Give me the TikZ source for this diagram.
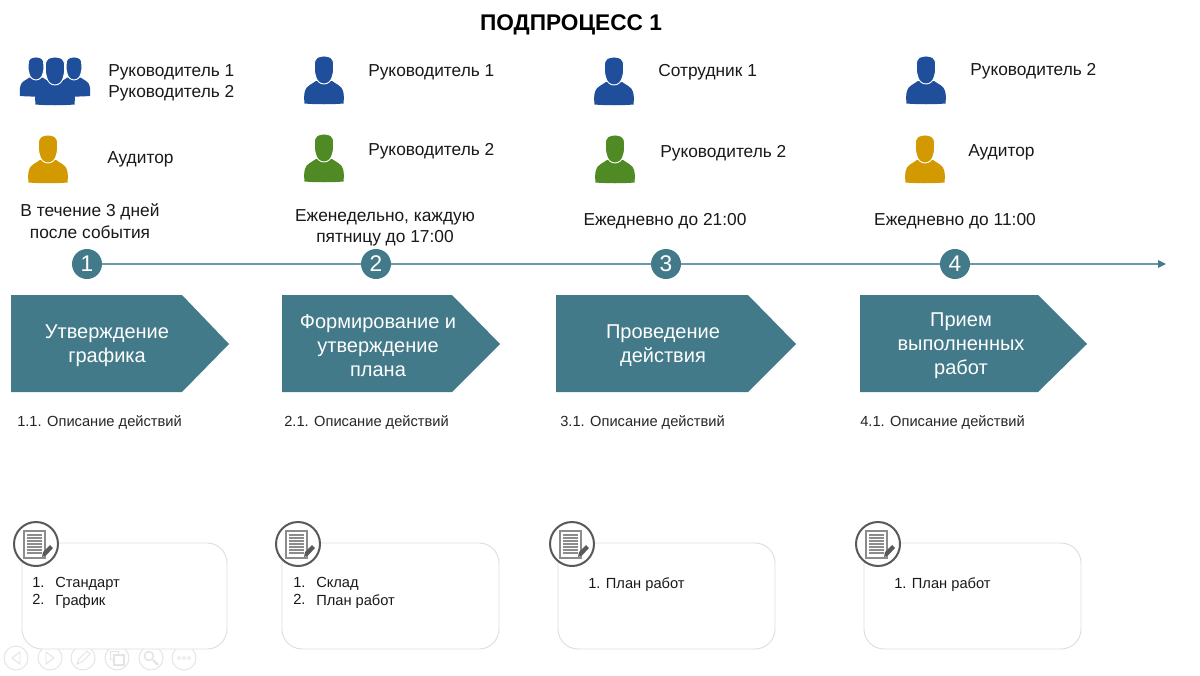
\documentclass[tikz,border=0pt]{standalone}
\usepackage{fontspec}
\setmainfont{Liberation Sans}
\usetikzlibrary{arrows.meta}
\definecolor{teal1}{HTML}{427A8A}
\definecolor{line1}{HTML}{6A9AA6}
\definecolor{blue1}{HTML}{1F4E9A}
\definecolor{gold1}{HTML}{D29A00}
\definecolor{green1}{HTML}{4F8A24}
\definecolor{box1}{HTML}{DEDEDE}
\definecolor{icon1}{HTML}{595959}
\definecolor{docl}{HTML}{8C8C8C}
\definecolor{nav1}{HTML}{E4E4E4}
\tikzset{
  x=0.75pt,y=-0.75pt,
  lab/.style={anchor=west,inner sep=0,font=\fontsize{13}{16}\selectfont,text=black!90},
  when/.style={align=center,inner sep=0,font=\fontsize{13}{16}\selectfont,text=black!90},
  desc/.style={anchor=west,inner sep=0,font=\fontsize{11}{14}\selectfont,text=black!85},
  lst/.style={anchor=north west,inner sep=0,font=\fontsize{11}{13.2}\selectfont,text=black!90},
  num/.style={circle,fill=teal1,minimum size=22.5pt,inner sep=0,text=white,font=\fontsize{17}{20}\selectfont},
  chev/.style={fill=teal1},
  chevtxt/.style={align=center,inner sep=0,text=white,font=\fontsize{15}{18}\selectfont},
  srcbox/.style={draw=box1,line width=0.7pt,rounded corners=15pt,fill=white},
  iconring/.style={circle,draw=icon1,line width=1.5pt,fill=white,minimum size=33pt,inner sep=0},
  navbtn/.style={circle,draw=nav1,line width=0.7pt,minimum size=18pt,inner sep=0},
  pics/person/.style={code={
    \fill[#1]
      (-19.5,47.5) .. controls (-20,42) and (-20,38) .. (-19,35)
      .. controls (-18,30) and (-12,28) .. (-8,25)
      -- (8,25)
      .. controls (12,28) and (18,30) .. (19,35)
      .. controls (20,38) and (20,42) .. (19.5,47.5)
      .. controls (8,48.5) and (-8,48.5) .. (-19.5,47.5) -- cycle;
    \fill[#1,draw=white,line width=0.7pt]
      (-9.5,9) .. controls (-10,2) and (-6,0) .. (0,0)
      .. controls (6,0) and (10,2) .. (9.5,9)
      .. controls (10,14) and (9.5,17) .. (8.5,20)
      .. controls (7.5,25) and (4,28) .. (0,28)
      .. controls (-4,28) and (-7.5,25) .. (-8.5,20)
      .. controls (-9.5,17) and (-10,14) .. (-9.5,9) -- cycle;
  }},
  pics/docicon/.style={code={
    \draw[docl,line width=0.8pt,fill=white] (-12,-13) rectangle (9,14);
    \foreach \yy in {-9,-6,-3,0,3,6,9}
      \draw[docl,line width=1pt] (-9,\yy) -- (6,\yy);
    \fill[icon1] (6,13) -- (7,8) -- (14,1) -- (17,4) -- (10,11.5) -- cycle;
  }},
}
\begin{document}
\begin{tikzpicture}
\useasboundingbox (0,0) rectangle (1200,675);
\fill[white] (0,0) rectangle (1200,675);
\node[inner sep=0,font=\bfseries\fontsize{17}{20}\selectfont,text=black] (title) at (571,25) {ПОДПРОЦЕСС 1};

% persons
\pic at (36,57) [scale=0.82] {person=blue1};
\pic at (74,57) [scale=0.82] {person=blue1};
\pic at (55,57) {person=blue1};
\pic at (48,135) {person=gold1};
\pic at (324,56) {person=blue1};
\pic at (324,134) {person=green1};
\pic at (614,57) {person=blue1};
\pic at (615,135) {person=green1};
\pic at (926,56) {person=blue1};
\pic at (925,135) {person=gold1};

\node[lab,align=left,anchor=north west] (a1) at (108,64) {Руководитель 1\\Руководитель 2};
\node[lab] (a2) at (107,159) {Аудитор};
\node[lab] (b1) at (368,72) {Руководитель 1};
\node[lab] (b2) at (368,151) {Руководитель 2};
\node[lab] (c1) at (658,72) {Сотрудник 1};
\node[lab] (c2) at (660,153) {Руководитель 2};
\node[lab] (d1) at (970,71) {Руководитель 2};
\node[lab] (d2) at (968,152) {Аудитор};

\node[when] (w1) at (90,221) {В течение 3 дней\\после события};
\node[when] (w2) at (385,228) {Еженедельно, каждую\\пятницу до 17:00};
\node[when] (w3) at (665,221) {Ежедневно до 21:00};
\node[when] (w4) at (955,221) {Ежедневно до 11:00};

% timeline
\node[num] (n1) at (87,264) {1};
\node[num] (n2) at (376,264) {2};
\node[num] (n3) at (666,264) {3};
\node[num] (n4) at (955,264) {4};
\coordinate (tend) at (1166,264);
\draw[line1,line width=1.1pt] (n1) -- (n2);
\draw[line1,line width=1.1pt] (n2) -- (n3);
\draw[line1,line width=1.1pt] (n3) -- (n4);
\draw[line1,line width=1.1pt,-{Triangle[length=6pt,width=5.5pt,color=teal1]}] (n4) -- (tend);

% chevrons
\fill[chev] (11,295) -- (182,295) -- (229,344) -- (182,392) -- (11,392) -- cycle;
\fill[chev] (282,295) -- (452,295) -- (500,344) -- (452,392) -- (282,392) -- cycle;
\fill[chev] (556,295) -- (748,295) -- (796,344) -- (748,392) -- (556,392) -- cycle;
\fill[chev] (860,295) -- (1038,295) -- (1087,344) -- (1038,392) -- (860,392) -- cycle;
\node[chevtxt] (s1) at (107,346) {Утверждение\\графика};
\node[chevtxt] (s2) at (378,346) {Формирование и\\утверждение\\плана};
\node[chevtxt] (s3) at (663,346) {Проведение\\действия};
\node[chevtxt] (s4) at (961,346) {Прием\\выполненных\\работ};

\node[desc] (t1) at (17,423) {1.1. Описание действий};
\node[desc] (t2) at (284,423) {2.1. Описание действий};
\node[desc] (t3) at (560,423) {3.1. Описание действий};
\node[desc] (t4) at (860,423) {4.1. Описание действий};

% nav overlay
\foreach \nx/\nn in {16/na,50/nb,83/nc,117/nd,151/ne,184/nf}
  \node[navbtn] (\nn) at (\nx,658) {};
\draw[nav1,line width=0.7pt] (20,652) -- (12,658) -- (20,664) -- cycle;
\draw[nav1,line width=0.7pt] (46,652) -- (54,658) -- (46,664) -- cycle;
\draw[nav1,line width=0.7pt] (77,664) -- (79,659) -- (87,651) -- (90,654) -- (82,662) -- cycle;
\draw[nav1,line width=0.7pt] (110,651) rectangle (118,659);
\draw[nav1,line width=1.1pt,fill=white] (114,655) rectangle (124,665);
\draw[nav1,line width=1.1pt] (149,656) circle[radius=4.5];
\draw[nav1,line width=1.7pt] (153,660) -- (158,665);
\foreach \dx in {179,184,189}
  \draw[nav1,line width=0.6pt] (\dx,658) circle[radius=1.6];

% source boxes
\draw[srcbox] (22,543) rectangle (227,649);
\draw[srcbox] (282,543) rectangle (499,649);
\draw[srcbox] (558,543) rectangle (775,649);
\draw[srcbox] (864,543) rectangle (1081,649);
\node[iconring] (i1) at (36,544) {};
\node[iconring] (i2) at (298,544) {};
\node[iconring] (i3) at (572,544) {};
\node[iconring] (i4) at (878,544) {};
\pic at (i1) {docicon};
\pic at (i2) {docicon};
\pic at (i3) {docicon};
\pic at (i4) {docicon};

\node[lst,align=left] (l1n) at (32,577) {1.\\2.};
\node[lst,align=left] (l1) at (55,577) {Стандарт\\График};
\node[lst,align=left] (l2n) at (293,577) {1.\\2.};
\node[lst,align=left] (l2) at (316,577) {Склад\\План работ};
\node[lst] (l3) at (588,577) {1. План работ};
\node[lst] (l4) at (894,577) {1. План работ};
\end{tikzpicture}
\end{document}
